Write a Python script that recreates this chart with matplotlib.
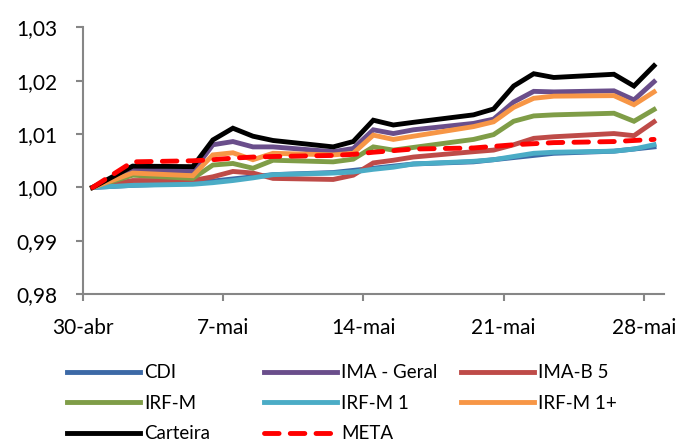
import numpy as np
import pandas as pd
import matplotlib
matplotlib.use('Agg')
import matplotlib.pyplot as plt

plt.rcParams['font.family'] = ['Lato', 'DejaVu Sans']

# business days, May 2014 (1-mai holiday)
datas = pd.to_datetime(['2014-04-30', '2014-05-02', '2014-05-05', '2014-05-06', '2014-05-07',
                        '2014-05-08', '2014-05-09', '2014-05-12', '2014-05-13', '2014-05-14',
                        '2014-05-15', '2014-05-16', '2014-05-19', '2014-05-20', '2014-05-21',
                        '2014-05-22', '2014-05-23', '2014-05-26', '2014-05-27', '2014-05-28'])

cdi = [1.0000, 1.0004, 1.0008, 1.0012, 1.0016, 1.0020, 1.0024, 1.0028, 1.0032, 1.0036,
       1.0040, 1.0044, 1.0048, 1.0052, 1.0056, 1.0060, 1.0064, 1.0068, 1.0072, 1.0076]
ima_geral = [1.0000, 1.0033, 1.0030, 1.0080, 1.0086, 1.0076, 1.0076, 1.0067, 1.0073, 1.0108,
             1.0101, 1.0108, 1.0120, 1.0128, 1.0160, 1.0180, 1.0179, 1.0181, 1.0164, 1.0198]
ima_b5 = [1.0000, 1.0013, 1.0013, 1.0020, 1.0030, 1.0027, 1.0017, 1.0015, 1.0023, 1.0046,
          1.0051, 1.0057, 1.0067, 1.0070, 1.0080, 1.0092, 1.0095, 1.0101, 1.0097, 1.0123]
irf_m = [1.0000, 1.0023, 1.0017, 1.0042, 1.0045, 1.0036, 1.0051, 1.0048, 1.0053, 1.0076,
         1.0070, 1.0075, 1.0090, 1.0099, 1.0124, 1.0134, 1.0136, 1.0139, 1.0124, 1.0146]
irf_m1 = [1.0000, 1.0004, 1.0006, 1.0009, 1.0013, 1.0018, 1.0024, 1.0027, 1.0029, 1.0034,
          1.0038, 1.0044, 1.0049, 1.0052, 1.0058, 1.0064, 1.0066, 1.0068, 1.0072, 1.0080]
irf_m1_mais = [1.0000, 1.0027, 1.0022, 1.0061, 1.0065, 1.0052, 1.0064, 1.0061, 1.0064, 1.0098,
               1.0090, 1.0096, 1.0114, 1.0123, 1.0150, 1.0167, 1.0171, 1.0172, 1.0155, 1.0179]
carteira = [1.0000, 1.0040, 1.0039, 1.0089, 1.0111, 1.0096, 1.0088, 1.0076, 1.0086, 1.0126,
            1.0117, 1.0122, 1.0136, 1.0147, 1.0190, 1.0213, 1.0206, 1.0212, 1.0190, 1.0228]
meta = [1.0000, 1.0048, 1.0050, 1.0052, 1.0055, 1.0057, 1.0058, 1.0060, 1.0062, 1.0066,
        1.0069, 1.0072, 1.0074, 1.0077, 1.0080, 1.0082, 1.0084, 1.0086, 1.0088, 1.0090]

tick_datas = pd.to_datetime(['2014-04-30', '2014-05-07', '2014-05-14', '2014-05-21', '2014-05-28'])
tick_labels = ['30-abr', '7-mai', '14-mai', '21-mai', '28-mai']
y_ticks = [0.98, 0.99, 1.00, 1.01, 1.02, 1.03]

series = [
    ('CDI', cdi, '#3C69A6', '-'),
    ('IMA - Geral', ima_geral, '#6A4E8B', '-'),
    ('IMA-B 5', ima_b5, '#BE4B48', '-'),
    ('IRF-M', irf_m, '#7F9D47', '-'),
    ('IRF-M 1', irf_m1, '#4BACC6', '-'),
    ('IRF-M 1+', irf_m1_mais, '#F79646', '-'),
    ('Carteira', carteira, '#000000', '-'),
    ('META', meta, '#FF0000', '--'),
]

fig = plt.figure(figsize=(6.91, 4.45), dpi=100)
ax = fig.add_axes([0.1194, 0.3387, 0.8416, 0.6000])

# points sit in the middle of each day band
x = datas + pd.Timedelta(hours=12)
handles = {}
for nome, vals, cor, estilo in series:
    if estilo == '--':
        ln, = ax.plot(x, vals, color=cor, lw=3.5, linestyle=(0, (3.0, 2.3)),
                      solid_capstyle='round', dash_capstyle='round')
    else:
        ln, = ax.plot(x, vals, color=cor, lw=3.5, solid_joinstyle='miter')
    handles[nome] = ln

ax.set_xlim(pd.Timestamp('2014-04-30'), pd.Timestamp('2014-05-29'))
ax.set_ylim(0.98, 1.03)
ax.set_xticks(tick_datas)
ax.set_xticklabels(tick_labels)
ax.set_yticks(y_ticks)
ax.set_yticklabels([f'{v:.2f}'.replace('.', ',') for v in y_ticks])

for s in ['top', 'right']:
    ax.spines[s].set_visible(False)
for s in ['left', 'bottom']:
    ax.spines[s].set_color('#868686')
    ax.spines[s].set_linewidth(1.5)
ax.tick_params(axis='both', colors='#868686', labelcolor='black', labelsize=15,
               length=5, width=1.5, direction='out')
ax.tick_params(axis='x', pad=12)
ax.tick_params(axis='y', pad=13)

# legend, three columns placed by hand
colunas = [['CDI', 'IRF-M', 'Carteira'],
           ['IMA - Geral', 'IRF-M 1', 'META'],
           ['IMA-B 5', 'IRF-M 1+']]
x_col = [0.097, 0.382, 0.667]
for xc, nomes in zip(x_col, colunas):
    fig.legend([handles[n] for n in nomes], nomes, loc='upper left',
               bbox_to_anchor=(xc, 0.181), bbox_transform=fig.transFigure,
               frameon=False, fontsize=13.5, handlelength=3.9, handletextpad=0.2,
               labelspacing=0.72, borderaxespad=0, borderpad=0)

fig.savefig('out.png', dpi=100)
